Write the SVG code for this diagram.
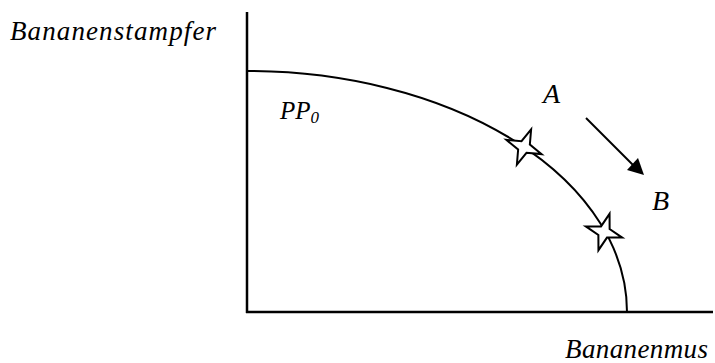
<svg xmlns="http://www.w3.org/2000/svg" width="715" height="363" viewBox="0 0 715 363">
<style>
.ax{stroke:#000;stroke-width:2.5;fill:none}
.cv{stroke:#000;stroke-width:2;fill:none}
text{font-family:'Liberation Serif','Times New Roman',Times,serif;font-style:italic;fill:#000}
.star{fill:#fff;stroke:#000;stroke-width:2;stroke-linejoin:miter}
</style>
<defs>
<polygon id="st" points="0,-19 4.5,-4.5 19,0 4.5,4.5 0,19 -4.5,4.5 -19,0 -4.5,-4.5"/>
</defs>
<rect width="715" height="363" fill="#fff"/>
<g id="axes">
<line class="ax" x1="247" y1="12" x2="247" y2="313"/>
<line class="ax" x1="246" y1="312" x2="713" y2="312"/>
</g>
<g id="curve">
<path class="cv" d="M247,71 A380,241 0 0 1 627,312"/>
</g>
<g id="connectors">
<line x1="586" y1="118" x2="634" y2="166" stroke="#000" stroke-width="2"/>
<polygon points="644,175 627,170 638,158" fill="#000"/>
</g>
<g id="starA"><use href="#st" class="star" transform="translate(524,147) rotate(22)"/></g>
<g id="starB"><use href="#st" class="star" transform="translate(604,232) rotate(17)"/></g>
<g id="labels">
<text x="10" y="40" font-size="27" textLength="206" lengthAdjust="spacing">Bananenstampfer</text>
<text x="565" y="358" font-size="27" textLength="143" lengthAdjust="spacing">Bananenmus</text>
<text x="543" y="103" font-size="28">A</text>
<text x="652" y="210" font-size="28">B</text>
<text x="280" y="119" font-size="25">PP<tspan font-size="17" dy="4">0</tspan></text>
</g>
</svg>
